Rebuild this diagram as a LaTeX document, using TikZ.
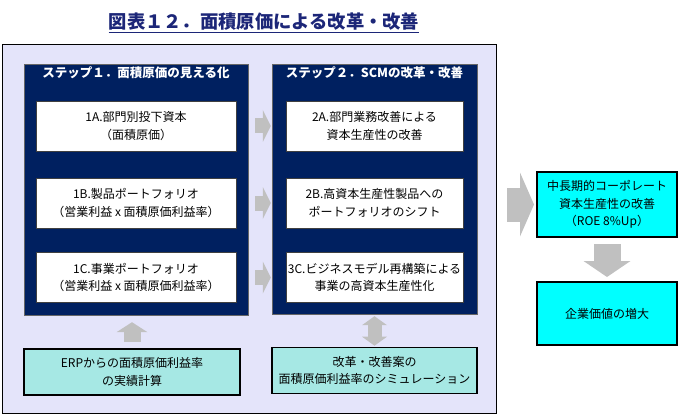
\documentclass[tikz,border=0pt]{standalone}
\usepackage{fontspec}
\setmainfont{Noto Sans CJK JP}
\usetikzlibrary{arrows.meta}

\definecolor{blunotte}{RGB}{0,32,96}
\definecolor{lavanda}{RGB}{228,228,250}
\definecolor{acqua}{RGB}{166,232,228}
\definecolor{ciano}{RGB}{0,255,255}
\definecolor{grigio}{RGB}{192,192,192}
\definecolor{titolo}{RGB}{28,38,120}

\begin{document}
\begin{tikzpicture}[x=1pt,y=-1pt,
	testo/.style={font=\fontsize{12}{17.5}\selectfont,align=center,inner sep=0pt},
	bianco/.style={testo,draw=black!75,fill=white,minimum height=50pt},
	passo/.style={draw=black!60,fill=blunotte,inner sep=0pt},
	verde/.style={testo,draw=black,line width=1.6pt,fill=acqua,minimum height=46pt},
	meta/.style={testo,draw=black,line width=2pt,fill=ciano,minimum width=140pt},
	freccia/.style={grigio,line width=15pt,-{Triangle[length=8pt,width=32pt,line width=0pt]}}]

	\useasboundingbox (0,0) rectangle (680,417);

	% Titolo
	\node[text=titolo,font=\fontsize{18.3}{20}\selectfont\bfseries,inner sep=0pt] (tit) at (264,23)
		{\underline{図表１２．面積原価による改革・改善}};

	% Riquadro esterno
	\node[draw=black,line width=1.8pt,fill=lavanda,minimum width=494pt,minimum height=369pt] (est) at (249.5,229) {};

	% Passo 1 e passo 2
	\node[passo,minimum width=224pt,minimum height=251pt] (p1) at (136,189.5) {};
	\node[passo,minimum width=205pt,minimum height=250pt] (p2) at (374.5,189) {};
	\node[testo,text=white,font=\fontsize{12.5}{14}\selectfont\bfseries,anchor=north] (t1) at ([yshift=-3pt]p1.north) {ステップ１．面積原価の見える化};
	\node[testo,text=white,font=\fontsize{12.5}{14}\selectfont\bfseries,anchor=north] (t2) at ([yshift=-3pt]p2.north) {ステップ２．SCMの改革・改善};

	% Caselle bianche
	\node[bianco,minimum width=200pt] (s1a) at (136,126) {1A.部門別投下資本\\（面積原価）};
	\node[bianco,minimum width=200pt] (s1b) at (136,203) {1B.製品ポートフォリオ\\（営業利益 x 面積原価利益率）};
	\node[bianco,minimum width=200pt] (s1c) at (136,277.5) {1C.事業ポートフォリオ\\（営業利益 x 面積原価利益率）};

	\node[bianco,minimum width=177pt] (s2a) at (374.5,126) {2A.部門業務改善による\\資本生産性の改善};
	\node[bianco,minimum width=177pt] (s2b) at (374.5,203) {2B.高資本生産性製品への\\ポートフォリオのシフト};
	\node[bianco,minimum width=177pt] (s2c) at (374.5,277.5) {3C.ビジネスモデル再構築による\\事業の高資本生産性化};

	% Caselle in basso
	\node[verde,minimum width=216pt] (erp) at (132,372) {ERPからの面積原価利益率\\の実績計算};
	\node[verde,minimum width=205pt] (sim) at (374.5,370.5) {改革・改善案の\\面積原価利益率のシミュレーション};

	% Caselle a destra
	\node[meta,minimum height=65pt] (roe) at (607,204.5) {中長期的コーポレート\\資本生産性の改善\\（ROE 8\%Up）};
	\node[meta,minimum height=63pt] (val) at (607,313.5) {企業価値の増大};

	% Frecce
	\foreach \r in {a,b,c}
		\draw[freccia,shorten <=7pt,shorten >=1pt] (s1\r -| p1.east) -- (s1\r -| p2.west);

	\draw[freccia,line width=17pt,-{Triangle[length=10pt,width=31pt,line width=0pt]},shorten <=6pt,shorten >=7pt]
		(erp.north) -- (erp.north |- p1.south);
	\draw[freccia,line width=14pt,{Triangle[length=9pt,width=25pt,line width=0pt]}-{Triangle[length=9pt,width=25pt,line width=0pt]},shorten <=1pt,shorten >=2pt]
		(sim.north) -- (sim.north |- p2.south);
	\draw[freccia,line width=34pt,-{Triangle[length=14pt,width=64pt,line width=0pt]},shorten <=10pt,shorten >=2pt]
		(roe -| est.east) -- (roe.west);
	\draw[freccia,line width=27pt,-{Triangle[length=16pt,width=47pt,line width=0pt]},shorten <=6pt,shorten >=4pt]
		(roe.south) -- (val.north);

\end{tikzpicture}
\end{document}
